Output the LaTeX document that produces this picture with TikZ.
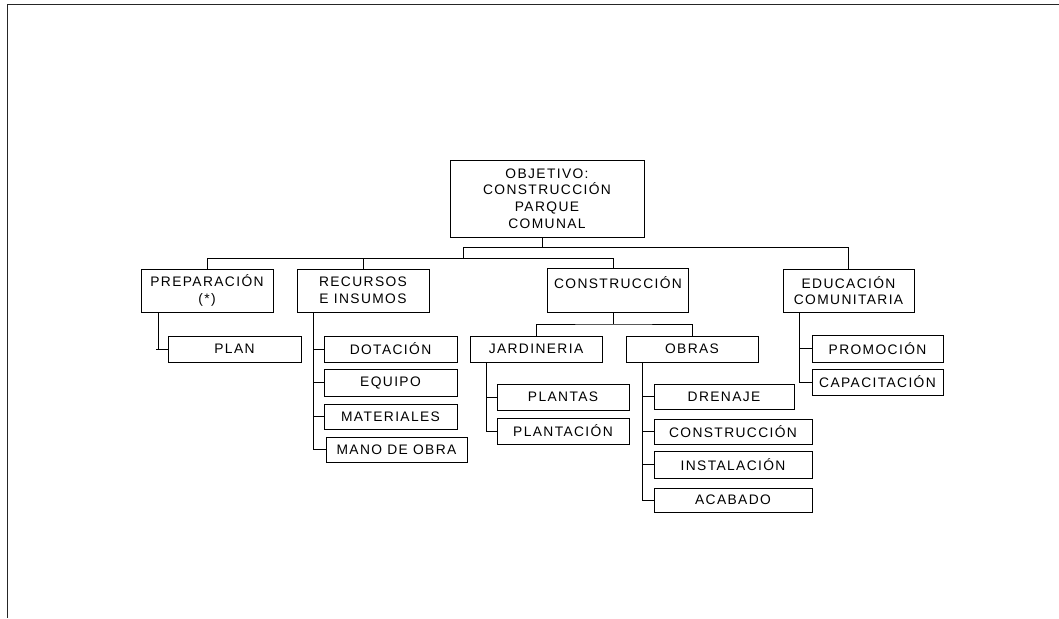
\documentclass[tikz,border=0pt]{standalone}
\usepackage{fontspec}
\setmainfont{Liberation Sans}[LetterSpace=10]
\begin{document}
\begin{tikzpicture}[x=1pt,y=-1pt,
  box/.style={draw=black,line width=0.9pt,inner sep=0pt,align=center,
    font=\fontsize{13.8}{16.6}\selectfont},
  conn/.style={draw=black,line width=0.9pt},
  frame/.style={draw=black!85,line width=1.6pt}]
\useasboundingbox (0,0) rectangle (1059,618);
\fill[white] (0,0) rectangle (1059,618);
% outer frame
\coordinate (fTL) at (7.5,4.5);
\coordinate (fTR) at (1059,4.5);
\coordinate (fBL) at (7.5,618);
\draw[frame] (fTR) -- (fTL) -- (fBL);
% boxes
\node[box,minimum width=194,minimum height=77] (root) at (547,198.5) {OBJETIVO:\\CONSTRUCCIÓN\\PARQUE\\COMUNAL};
\node[box,minimum width=132,minimum height=43] (prep) at (207,290.5) {PREPARACIÓN\\(*)};
\node[box,minimum width=132,minimum height=43] (rec) at (363,290.5) {RECURSOS\\E INSUMOS};
\node[box,minimum width=141,minimum height=44] (cons) at (618,290.5) {CONSTRUCCIÓN\\\mbox{}};
\node[box,minimum width=131,minimum height=43] (edu) at (848.5,290.5) {EDUCACIÓN\\COMUNITARIA};
\node[box,minimum width=133,minimum height=26] (plan) at (234.5,349) {PLAN};
\node[box,minimum width=133,minimum height=26] (dot) at (390.5,349) {DOTACIÓN};
\node[box,minimum width=133,minimum height=27] (equ) at (390.5,382.5) {EQUIPO};
\node[box,minimum width=133,minimum height=25] (mat) at (390.5,416.5) {MATERIALES};
\node[box,minimum width=141,minimum height=25] (mano) at (396.5,449.5) {MANO DE OBRA};
\node[box,minimum width=132,minimum height=26] (jar) at (536,349) {JARDINERIA};
\node[box,minimum width=132,minimum height=26] (obr) at (692,349) {OBRAS};
\node[box,minimum width=132,minimum height=26] (pla) at (563,397) {PLANTAS};
\node[box,minimum width=132,minimum height=26] (plc) at (563,431) {PLANTACIÓN};
\node[box,minimum width=140,minimum height=25] (dre) at (724,396.5) {DRENAJE};
\node[box,minimum width=158,minimum height=25] (con2) at (733,431.5) {CONSTRUCCIÓN};
\node[box,minimum width=158,minimum height=27] (ins) at (733,464.5) {INSTALACIÓN};
\node[box,minimum width=158,minimum height=24] (aca) at (733,500) {ACABADO};
\node[box,minimum width=131,minimum height=27] (pro) at (877.5,348.5) {PROMOCIÓN};
\node[box,minimum width=131,minimum height=26] (cap) at (877.5,382) {CAPACITACIÓN};
% top-level connectors
\coordinate (bA) at (542,247);
\coordinate (bJ) at (463,247);
\coordinate (bK) at (613,258);
\draw[conn] (root.south -| bA) -- (bA);
\draw[conn] (bJ) -| (edu.north);
\draw[conn] (bJ) -- (bJ |- bK);
\draw[conn] (prep.north) |- (bK) -- (bK |- cons.north);
\draw[conn] (rec.north) -- (rec.north |- bK);
% preparacion
\coordinate (sP) at (158,312);
\draw[conn] (sP) |- (plan.west);
\draw[conn] (plan.west) -- ++(-12,0);
% recursos
\coordinate (sR) at (313,312);
\draw[conn] (sR) |- (mano.west);
\draw[conn] (sR |- dot.west) -- (dot.west);
\draw[conn] (sR |- equ.west) -- (equ.west);
\draw[conn] (sR |- mat.west) -- (mat.west);
% construccion
\coordinate (bC) at (613,324);
\draw[conn] (bC |- cons.south) -- (bC);
\draw[conn] (jar.north) |- (bC) -| (obr.north);
% jardineria
\coordinate (sJ) at (486,362);
\draw[conn] (sJ) |- (plc.west);
\draw[conn] (sJ |- pla.west) -- (pla.west);
% obras
\coordinate (sO) at (642,362);
\draw[conn] (sO) |- (aca.west);
\draw[conn] (sO |- dre.west) -- (dre.west);
\draw[conn] (sO |- con2.west) -- (con2.west);
\draw[conn] (sO |- ins.west) -- (ins.west);
% educacion
\coordinate (sE) at (799,312);
\draw[conn] (sE) |- (cap.west);
\draw[conn] (sE |- pro.west) -- (pro.west);
\end{tikzpicture}
\end{document}
